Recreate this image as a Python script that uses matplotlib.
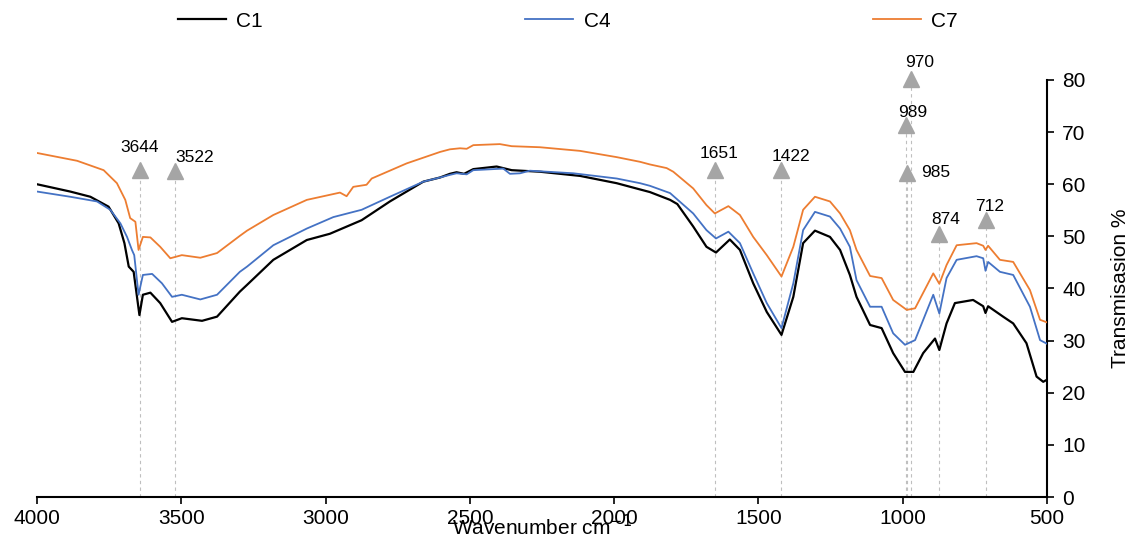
import numpy as np
import matplotlib.pyplot as plt

plt.rcParams['font.family'] = ['Liberation Sans', 'DejaVu Sans']

# FTIR spectra (wavenumber cm-1, transmission %)
wn_c1 = [4000, 3885, 3815, 3752, 3717, 3697, 3682, 3665, 3645, 3633, 3607, 3573, 3532, 3498, 3428, 3376,
         3297, 3272, 3181, 3065, 2985, 2875, 2777, 2661, 2603, 2569, 2546, 2520, 2488, 2407, 2355, 2257,
         2118, 1991, 1910, 1876, 1806, 1781, 1726, 1680, 1647, 1599, 1564, 1518, 1471, 1420, 1379, 1345,
         1304, 1252, 1217, 1183, 1160, 1113, 1073, 1033, 992, 963, 929, 888, 873, 848, 819, 756, 721,
         713, 704, 652, 617, 571, 536, 513, 500]
t_c1 = [60.0, 58.6, 57.6, 55.7, 52.5, 48.7, 44.2, 43.2, 34.9, 38.8, 39.2, 37.2, 33.6, 34.3, 33.8, 34.6,
        39.4, 40.7, 45.5, 49.3, 50.5, 53.1, 56.7, 60.5, 61.3, 62.0, 62.3, 62.0, 62.9, 63.4, 62.7, 62.4,
        61.6, 60.2, 59.0, 58.5, 57.0, 56.2, 51.9, 48.0, 46.9, 49.4, 47.4, 41.0, 35.5, 31.1, 38.4, 48.7,
        51.1, 49.9, 47.4, 42.6, 38.4, 33.0, 32.4, 27.6, 24.0, 24.0, 27.6, 30.4, 28.2, 33.3, 37.2, 37.8, 36.6,
        35.3, 36.6, 34.6, 33.3, 29.5, 23.1, 22.1, 22.5]

wn_c4 = [4000, 3885, 3792, 3746, 3711, 3688, 3671, 3663, 3648, 3633, 3601, 3567, 3532, 3498, 3434, 3376,
         3297, 3272, 3181, 3065, 2973, 2875, 2777, 2661, 2603, 2569, 2546, 2511, 2488, 2384, 2361, 2326,
         2292, 2141, 1991, 1910, 1876, 1806, 1726, 1680, 1647, 1604, 1564, 1518, 1471, 1420, 1379, 1345,
         1304, 1252, 1217, 1183, 1160, 1113, 1073, 1033, 992, 957, 894, 873, 848, 813, 744, 721, 713, 704,
         663, 617, 559, 524, 500]
t_c4 = [58.6, 57.6, 56.7, 55.1, 52.5, 49.9, 47.4, 46.4, 38.8, 42.6, 42.8, 41.0, 38.4, 38.8, 37.9, 38.8,
        43.2, 44.2, 48.3, 51.5, 53.7, 55.1, 57.6, 60.5, 61.3, 61.8, 62.1, 61.9, 62.7, 63.0, 62.0, 62.1,
        62.6, 62.1, 61.1, 60.2, 59.7, 58.3, 54.4, 51.2, 49.6, 50.9, 48.7, 42.9, 37.2, 32.4, 41.0, 51.2,
        54.7, 53.8, 51.5, 48.0, 41.6, 36.5, 36.5, 31.4, 29.2, 30.1, 38.8, 35.2, 42.0, 45.5, 46.2, 45.8, 43.4, 45.1,
        43.2, 42.6, 36.5, 30.1, 29.4]

wn_c7 = [4000, 3861, 3769, 3723, 3694, 3677, 3659, 3648, 3633, 3607, 3573, 3538, 3498, 3434, 3376, 3297,
         3272, 3181, 3065, 2950, 2927, 2904, 2858, 2840, 2719, 2603, 2569, 2534, 2511, 2488, 2396, 2355,
         2257, 2118, 1991, 1910, 1876, 1818, 1795, 1726, 1680, 1651, 1604, 1564, 1518, 1471, 1420, 1379,
         1345, 1304, 1252, 1217, 1183, 1160, 1113, 1073, 1033, 986, 957, 894, 873, 848, 813, 744, 721,
         713, 704, 663, 617, 559, 524, 500]
t_c7 = [66.0, 64.5, 62.7, 60.2, 57.0, 53.5, 52.8, 47.4, 49.9, 49.8, 48.0, 45.8, 46.4, 45.9, 46.8, 50.1,
        51.1, 54.1, 57.0, 58.4, 57.7, 59.5, 59.9, 61.1, 64.0, 66.2, 66.7, 66.9, 66.8, 67.5, 67.7, 67.3,
        67.1, 66.4, 65.2, 64.3, 63.8, 63.1, 62.4, 59.2, 56.0, 54.4, 55.8, 54.1, 49.9, 46.4, 42.3, 48.0,
        55.1, 57.6, 56.7, 54.4, 51.2, 47.4, 42.4, 42.0, 37.8, 35.9, 36.2, 42.9, 40.9, 44.5, 48.3, 48.7, 48.2,
        47.4, 48.2, 45.5, 45.1, 39.7, 34.0, 33.5]

# peak markers
peak_wn = [3644, 3522, 1651, 1422, 970, 989, 985, 874, 712]
peak_y = [62.7, 62.5, 62.7, 62.7, 80.2, 71.4, 62.2, 50.5, 53.1]
peak_lab = ['3644', '3522', '1651', '1422', '970', '989', '985', '874', '712']
# label offsets in points
lab_off = [(0, 16), (14, 10), (3, 12), (7, 10), (6, 12), (5, 9), (10, 0), (5, 10), (3, 10)]

fig = plt.figure(figsize=(11.31, 5.39), dpi=100)
ax = fig.add_axes([0.0327, 0.0779, 0.893, 0.7737])

ax.plot(wn_c1, t_c1, color='black', lw=1.6, label='C1', zorder=3)
ax.plot(wn_c4, t_c4, color='#4472C4', lw=1.3, label='C4', zorder=3)
ax.plot(wn_c7, t_c7, color='#ED7D31', lw=1.3, label='C7', zorder=3)

for x, y, s, off in zip(peak_wn, peak_y, peak_lab, lab_off):
    ax.plot([x, x], [0, y], ls=(0, (3, 3)), color='#BFBFBF', lw=0.8, zorder=1)
    ax.plot(x, y, marker='^', ms=11, color='#A5A5A5', mec='#A5A5A5', clip_on=False, zorder=4)
    ha = 'left' if off[1] == 0 else 'center'
    ax.annotate(s, (x, y), xytext=off, textcoords='offset points', ha=ha, va='center',
                fontsize=12.5, annotation_clip=False)

ax.set_xlim(4000, 500)
ax.set_ylim(0, 80)
ax.set_xticks([4000, 3500, 3000, 2500, 2000, 1500, 1000, 500])
ax.set_yticks(np.arange(0, 81, 10))

ax.spines['top'].set_visible(False)
ax.spines['left'].set_visible(False)
ax.spines['bottom'].set_linewidth(1.5)
ax.spines['right'].set_linewidth(1.5)
ax.yaxis.tick_right()
ax.yaxis.set_label_position('right')
ax.tick_params(axis='both', direction='out', length=5, width=1.2, labelsize=15)
ax.tick_params(axis='y', pad=6)

ax.set_ylabel('Transmisasion %', fontsize=15, labelpad=18)
ax.set_xlabel('Wavenumber cm$^{-1}$', fontsize=15)
ax.xaxis.set_label_coords(0.5, -0.04)

fig.legend(loc='center', bbox_to_anchor=(0.502, 0.961), ncol=3, frameon=False, fontsize=15,
           handlelength=2.3, handletextpad=0.5, columnspacing=12.6, borderaxespad=0)

plt.savefig('out.png', dpi=100)
